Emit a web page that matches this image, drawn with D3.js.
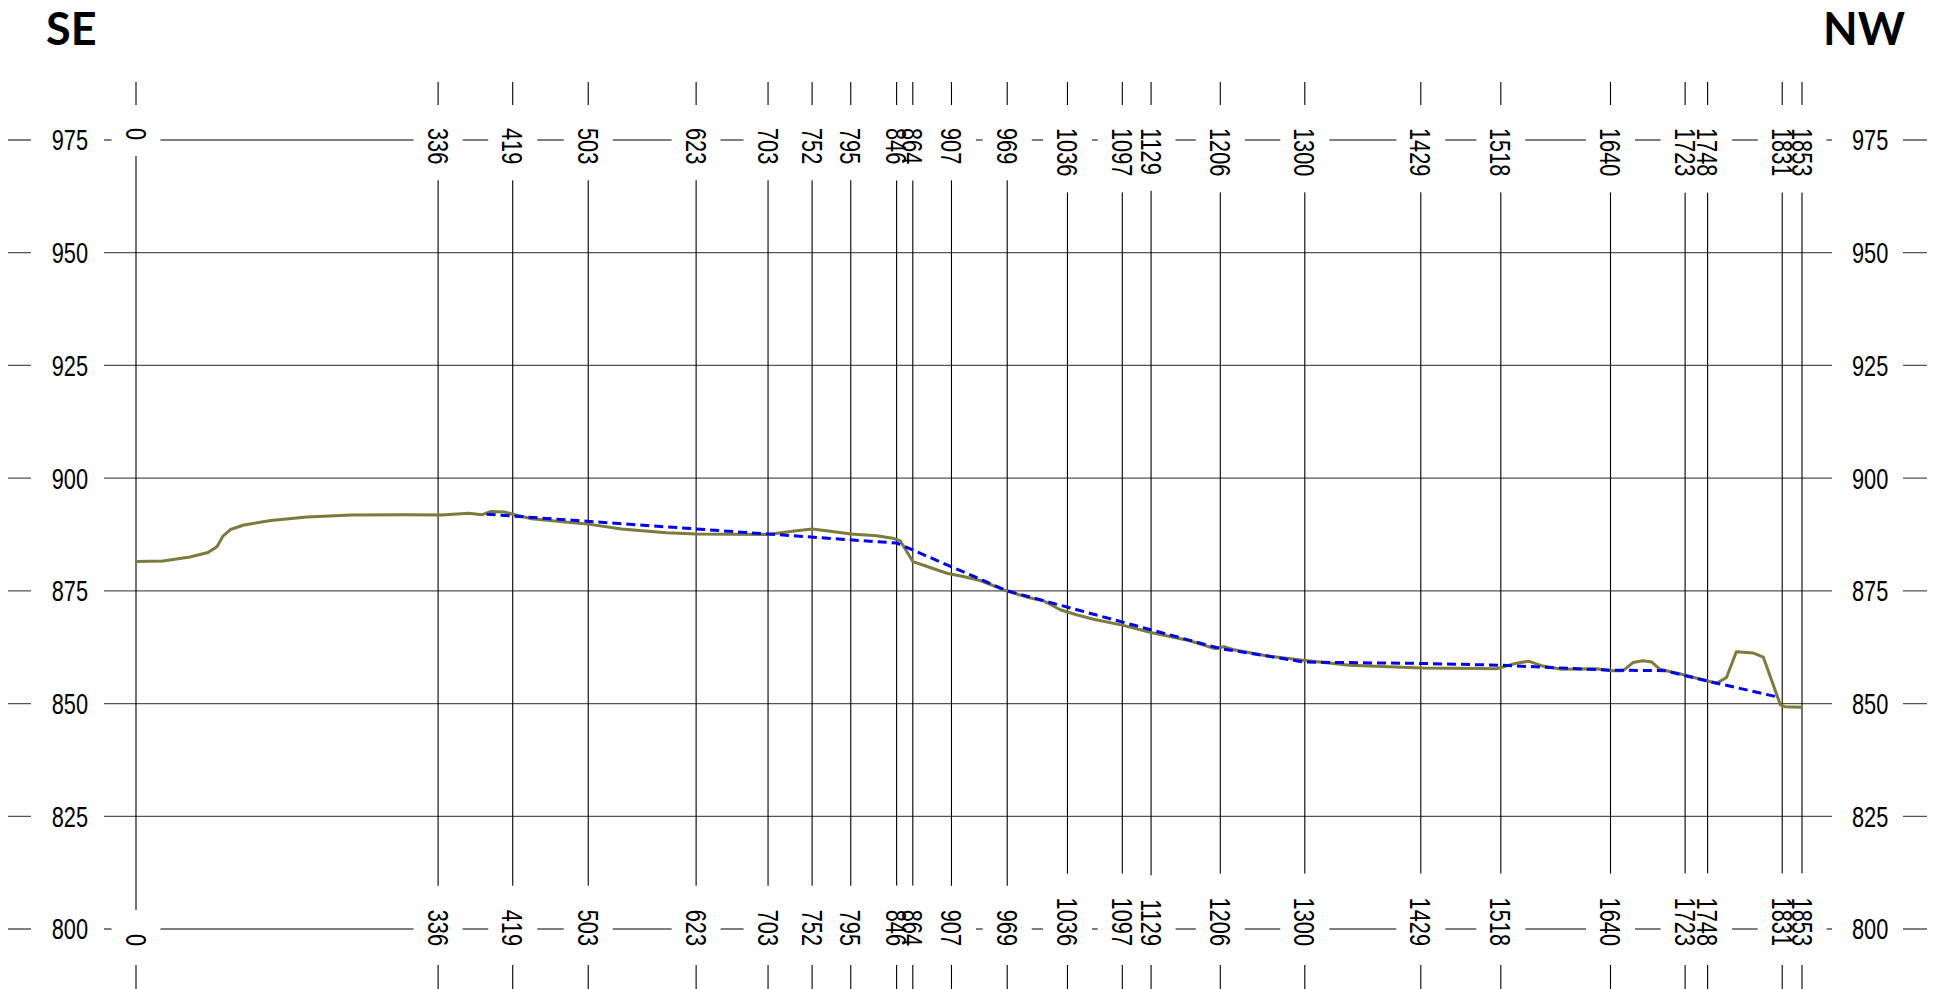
<!DOCTYPE html>
<html>
<head>
    <meta charset="utf-8">
    <title>SE - NW profile</title>
    <style type="text/css">
        body { margin: 0; background: #fff; }
        svg text.num { font-family: "Liberation Sans", Arial, sans-serif; font-size: 29px; fill: #000; }
        svg text.dir { font-family: Lato, "Open Sans", sans-serif; font-weight: bold; font-size: 45px; fill: #000; }
    </style>
</head>
<body>
<div id="profile"></div>
<script src="https://cdn.jsdelivr.net/npm/d3@7"></script>
<script type="text/javascript">
    // stations (chainage) shown as vertical lines
    var stations = [0, 336, 419, 503, 623, 703, 752, 795, 846, 864, 907, 969, 1036, 1097, 1129, 1206, 1300, 1429, 1518, 1640, 1723, 1748, 1831, 1853];
    // elevation gridlines
    var elevTicks = [800, 825, 850, 875, 900, 925, 950, 975];

    // ground profile (olive)
    var groundDist = [0, 30, 60, 80, 90, 97, 105, 120, 150, 190, 240, 300, 340, 370, 385, 395, 410, 419, 440, 480, 503, 540, 590, 623, 703, 730, 752, 770, 795, 824, 843, 850, 864, 880, 902, 920, 939, 968, 991, 1009, 1028, 1046, 1065, 1097, 1130, 1171, 1200, 1210, 1220, 1254, 1298, 1350, 1430, 1495, 1513, 1534, 1549, 1563, 1586, 1625, 1641, 1654, 1665, 1676, 1686, 1695, 1717, 1736, 1758, 1769, 1780, 1799, 1810, 1829, 1834, 1853];
    var groundElev = [881.5, 881.6, 882.5, 883.5, 884.8, 887.2, 888.6, 889.6, 890.6, 891.4, 891.8, 891.9, 891.8, 892.2, 891.9, 892.6, 892.5, 892.0, 891.0, 890.2, 889.8, 888.7, 887.9, 887.6, 887.5, 888.2, 888.7, 888.3, 887.6, 887.2, 886.6, 886.1, 881.5, 880.4, 878.9, 878.2, 877.3, 875.0, 873.6, 872.8, 870.8, 869.7, 868.7, 867.4, 865.7, 864.0, 862.2, 862.6, 862.0, 860.7, 859.6, 858.5, 857.9, 857.8, 857.7, 858.9, 859.4, 858.4, 857.6, 857.7, 857.3, 857.3, 859.1, 859.5, 859.2, 857.6, 856.6, 855.6, 854.5, 855.8, 861.5, 861.2, 860.3, 849.7, 849.3, 849.2];

    // design grade (blue dashed)
    var gradeDist = [390, 846, 969, 1206, 1300, 1429, 1518, 1640, 1700, 1748, 1825];
    var gradeElev = [892.0, 885.6, 875.0, 862.2, 859.2, 858.9, 858.5, 857.4, 857.3, 855.0, 851.5];

    var W = 1940, H = 989;
    var svg = d3.select('#profile')
        .append('svg')
        .attr('width', W)
        .attr('height', H);

    var x = d3.scaleLinear().domain([0, 1853]).range([136, 1802]);
    var y = d3.scaleLinear().domain([800, 975]).range([929, 140]);

    var sx = 0.75;  // condensed look of the number font

    // horizontal gridlines
    svg.append('g').selectAll('line')
        .data(elevTicks)
        .enter()
        .append('line')
        .attr('x1', 8).attr('x2', 1927)
        .attr('y1', function (d) { return y(d); })
        .attr('y2', function (d) { return y(d); })
        .attr('stroke', '#555')
        .attr('stroke-width', 1.3);

    // vertical station lines
    svg.append('g').selectAll('line')
        .data(stations)
        .enter()
        .append('line')
        .attr('x1', function (d) { return x(d); })
        .attr('x2', function (d) { return x(d); })
        .attr('y1', 82).attr('y2', H)
        .attr('stroke', '#000')
        .attr('stroke-width', 1.1);

    // elevation labels, both sides, on white boxes
    var yl = svg.append('g');
    elevTicks.forEach(function (d) {
        yl.append('rect')
            .attr('x', 31).attr('y', y(d) - 14)
            .attr('width', 73).attr('height', 28)
            .attr('fill', '#fff');
        yl.append('rect')
            .attr('x', 1832).attr('y', y(d) - 14)
            .attr('width', 71).attr('height', 28)
            .attr('fill', '#fff');
        yl.append('text')
            .attr('class', 'num')
            .attr('transform', 'translate(88,' + y(d) + ') scale(' + sx + ',1)')
            .attr('dy', '0.36em')
            .attr('text-anchor', 'end')
            .text(d);
        yl.append('text')
            .attr('class', 'num')
            .attr('transform', 'translate(1852,' + y(d) + ') scale(' + sx + ',1)')
            .attr('dy', '0.36em')
            .attr('text-anchor', 'start')
            .text(d);
    });

    // station labels, top and bottom, rotated
    var topBox = svg.append('g'), topTxt = svg.append('g');
    var botBox = svg.append('g'), botTxt = svg.append('g');
    stations.forEach(function (d) {
        var t1 = topTxt.append('text')
            .attr('class', 'num')
            .attr('transform', 'translate(' + x(d) + ',128) rotate(90) scale(' + sx + ',1)')
            .attr('dy', '0.36em')
            .attr('text-anchor', 'start')
            .text(d);
        var len = t1.node().getComputedTextLength() * sx;
        topBox.append('rect')
            .attr('x', x(d) - 24.5).attr('y', 105)
            .attr('width', 49).attr('height', 23 + len + 16)
            .attr('fill', '#fff');

        botTxt.append('text')
            .attr('class', 'num')
            .attr('transform', 'translate(' + x(d) + ',946) rotate(90) scale(' + sx + ',1)')
            .attr('dy', '0.36em')
            .attr('text-anchor', 'end')
            .text(d);
        botBox.append('rect')
            .attr('x', x(d) - 24.5).attr('y', 946 - len - 24)
            .attr('width', 49).attr('height', len + 24 + 19)
            .attr('fill', '#fff');
    });
    topTxt.raise();
    botTxt.raise();

    // ground line
    var ground = groundDist.map(function (d, i) { return [d, groundElev[i]]; });
    var grade = gradeDist.map(function (d, i) { return [d, gradeElev[i]]; });
    var line = d3.line()
        .x(function (d) { return x(d[0]); })
        .y(function (d) { return y(d[1]); });

    svg.append('path')
        .datum(ground)
        .attr('d', line)
        .attr('fill', 'none')
        .attr('stroke', '#7d7b3c')
        .attr('stroke-width', 3)
        .attr('stroke-linejoin', 'round');

    svg.append('path')
        .datum(grade)
        .attr('d', line)
        .attr('fill', 'none')
        .attr('stroke', '#0000ff')
        .attr('stroke-width', 3)
        .attr('stroke-dasharray', '9,5');

    // direction captions
    svg.append('text').attr('class', 'dir')
        .attr('x', 46).attr('y', 45)
        .text('SE');
    svg.append('text').attr('class', 'dir')
        .attr('x', 1905).attr('y', 45)
        .attr('text-anchor', 'end')
        .text('NW');
</script>
</body>
</html>
